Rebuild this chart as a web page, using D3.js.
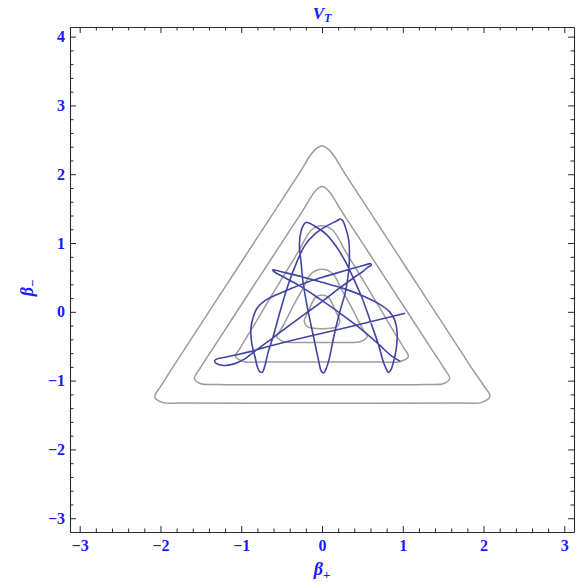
<!DOCTYPE html>
<html>
<head>
<meta charset="utf-8">
<script src="https://cdn.jsdelivr.net/npm/d3@7"></script>
<style>
  body { margin: 0; background: #fff; }
  svg { display: block; }
</style>
</head>
<body>
<div id="chart"></div>
<script>
// tick labels
const xTicks = [-3, -2, -1, 0, 1, 2, 3]
const yTicks = [-3, -2, -1, 0, 1, 2, 3, 4]

// equipotential contours of V_T (beta+, beta-)
const contour1 = [[0, 2.41], [0.10, 2.34], [0.30, 1.98], [1.05, 0.63], [1.85, -0.81], [2.00, -1.07], [2.08, -1.23],
  [1.97, -1.32], [1.75, -1.325], [0, -1.33], [-1.75, -1.325], [-1.97, -1.32], [-2.07, -1.24], [-1.99, -1.07],
  [-1.85, -0.81], [-1.05, 0.63], [-0.30, 1.98], [-0.10, 2.34]]
const contour2 = [[0, 1.82], [0.08, 1.76], [0.25, 1.45], [0.79, 0.48], [1.35, -0.53], [1.51, -0.82], [1.58, -0.97],
  [1.50, -1.045], [1.30, -1.055], [0, -1.06], [-1.30, -1.055], [-1.50, -1.045], [-1.58, -0.97], [-1.51, -0.82],
  [-1.35, -0.53], [-0.79, 0.48], [-0.25, 1.45], [-0.08, 1.76]]
const contour3 = [[0, 1.25], [0.13, 1.19], [0.30, 0.86], [0.57, 0.34], [0.85, -0.21], [1.01, -0.52], [1.07, -0.65],
  [0.96, -0.725], [0.75, -0.73], [0, -0.73], [-0.75, -0.73], [-0.96, -0.725], [-1.07, -0.65], [-1.01, -0.52],
  [-0.85, -0.21], [-0.57, 0.34], [-0.30, 0.86], [-0.13, 1.19]]
const contour4 = [[0, 0.62], [0.13, 0.56], [0.24, 0.33], [0.35, 0.10], [0.45, -0.13], [0.51, -0.26], [0.56, -0.36],
  [0.47, -0.435], [0.30, -0.445], [0, -0.445], [-0.30, -0.445], [-0.47, -0.435], [-0.56, -0.36], [-0.51, -0.26],
  [-0.45, -0.13], [-0.35, 0.10], [-0.24, 0.33], [-0.13, 0.56]]
const contour5 = [[0, 0.245], [0.08, 0.21], [0.16, 0.03], [0.22, -0.14], [0.19, -0.21], [0.10, -0.24], [0, -0.245],
  [-0.10, -0.24], [-0.19, -0.21], [-0.22, -0.14], [-0.16, 0.03], [-0.08, 0.21]]
const contours = [contour1, contour2, contour3, contour4, contour5]

// trajectory
const betaPlus = [1.03, 0.41, -0.21, -0.62, -0.83, -1.04, -1.20, -1.29, -1.33, -1.31,
  -1.22, -1.10, -0.95, -0.83, -0.62, -0.42, -0.21, 0.00, 0.20, 0.41,
  0.51, 0.57, 0.61, 0.60, 0.53, 0.41, 0.20, 0.00, -0.21, -0.42,
  -0.58, -0.71, -0.80, -0.85, -0.88, -0.87, -0.83, -0.80, -0.77, -0.74,
  -0.71, -0.67, -0.60, -0.52, -0.42, -0.31, -0.21, -0.09, 0.06, 0.18,
  0.23, 0.26, 0.29, 0.33, 0.34, 0.33, 0.29, 0.22, 0.15, 0.09,
  0.05, 0.02, -0.01, -0.04, -0.10, -0.17, -0.23, -0.26, -0.28, -0.26,
  -0.23, -0.20, -0.16, -0.07, 0.05, 0.17, 0.29, 0.40, 0.50, 0.60,
  0.70, 0.76, 0.80, 0.82, 0.85, 0.88, 0.92, 0.93, 0.90, 0.83,
  0.70, 0.53, 0.29, 0.00, -0.25, -0.46, -0.56, -0.61, -0.59, -0.50,
  -0.25, -0.02, 0.20, 0.45, 0.70, 0.86, 0.97]
const betaMinus = [-0.02, -0.20, -0.37, -0.49, -0.56, -0.62, -0.66, -0.68, -0.71, -0.75,
  -0.78, -0.76, -0.68, -0.57, -0.39, -0.21, -0.03, 0.15, 0.33, 0.51,
  0.59, 0.65, 0.68, 0.70, 0.68, 0.64, 0.57, 0.50, 0.42, 0.32,
  0.24, 0.16, 0.06, -0.07, -0.24, -0.46, -0.65, -0.80, -0.87, -0.88,
  -0.80, -0.60, -0.34, 0.00, 0.39, 0.73, 0.97, 1.13, 1.25, 1.32,
  1.35, 1.32, 1.23, 1.05, 0.83, 0.59, 0.29, 0.00, -0.34, -0.68,
  -0.83, -0.89, -0.86, -0.72, -0.39, 0.00, 0.39, 0.73, 0.97, 1.17,
  1.26, 1.30, 1.29, 1.23, 1.13, 0.96, 0.73, 0.46, 0.19, -0.14,
  -0.48, -0.73, -0.84, -0.88, -0.85, -0.75, -0.53, -0.29, -0.12, 0.01,
  0.12, 0.22, 0.33, 0.43, 0.51, 0.57, 0.60, 0.61, 0.58, 0.52,
  0.36, 0.18, 0.00, -0.22, -0.47, -0.64, -0.72]

const W = 584, H = 584
const margin = { left: 70, right: 574, top: 27, bottom: 532 }
const blue = '#1a1aff'
const font = '"Liberation Serif", "Times New Roman", serif'

const svg = d3.select('#chart').append('svg')
    .attr('width', W)
    .attr('height', H)

let x = d3.scaleLinear().domain([-3.12, 3.12]).range([margin.left, margin.right])
let y = d3.scaleLinear().domain([-3.2, 4.14]).range([margin.bottom, margin.top])

//contours
let closedLine = d3.line()
    .x(d => x(d[0]))
    .y(d => y(d[1]))
    .curve(d3.curveCatmullRomClosed.alpha(0.5))

svg.append('g')
    .selectAll('path')
    .data(contours)
    .enter().append('path')
    .attr('d', closedLine)
    .attr('fill', 'none')
    .attr('stroke', '#9c9c9c')
    .attr('stroke-width', 1.5)

//trajectory
let traj = betaPlus.map((d, i) => [d, betaMinus[i]])
let openLine = d3.line()
    .x(d => x(d[0]))
    .y(d => y(d[1]))
    .curve(d3.curveCatmullRom.alpha(0.5))

svg.append('path')
    .datum(traj)
    .attr('d', openLine)
    .attr('fill', 'none')
    .attr('stroke', '#4343a6')
    .attr('stroke-width', 1.6)
    .attr('stroke-linejoin', 'round')

//frame with ticks on all sides
const minorX = d3.range(-15, 16).filter(i => i % 5 !== 0).map(i => i / 5)
const minorY = d3.range(-15, 21).filter(i => i % 5 !== 0).map(i => i / 5)

function styleAxis(g) {
    g.selectAll('.domain').attr('stroke', '#2a2a2a').attr('stroke-width', 1.1)
    g.selectAll('line').attr('stroke', '#2a2a2a').attr('stroke-width', 1)
    g.selectAll('text')
        .attr('fill', blue)
        .attr('font-family', font)
        .attr('font-weight', 'bold')
        .attr('font-size', 16)
}

const axes = [
    { make: d3.axisBottom, scale: x, pos: `translate(0,${margin.bottom})`, major: xTicks, minor: minorX, labels: true },
    { make: d3.axisTop, scale: x, pos: `translate(0,${margin.top})`, major: xTicks, minor: minorX, labels: false },
    { make: d3.axisLeft, scale: y, pos: `translate(${margin.left},0)`, major: yTicks, minor: minorY, labels: true },
    { make: d3.axisRight, scale: y, pos: `translate(${margin.right},0)`, major: yTicks, minor: minorY, labels: false }
]

axes.forEach(a => {
    svg.append('g')
        .attr('transform', a.pos)
        .call(a.make(a.scale).tickValues(a.minor).tickSize(-3.5).tickFormat(''))
        .call(g => g.select('.domain').remove())
        .call(styleAxis)
    svg.append('g')
        .attr('transform', a.pos)
        .call(a.make(a.scale).tickValues(a.major).tickSizeInner(-6).tickSizeOuter(0)
            .tickPadding(a.make === d3.axisBottom ? 8 : 5)
            .tickFormat(a.labels ? d3.format('d') : ''))
        .call(styleAxis)
})

//title and axis labels
let title = svg.append('text')
    .attr('x', x(0))
    .attr('y', 19)
    .attr('text-anchor', 'middle')
    .attr('fill', blue)
    .attr('font-family', font)
    .attr('font-weight', 'bold')
    .attr('font-style', 'italic')
    .attr('font-size', 17)
title.append('tspan').text('V')
title.append('tspan').attr('font-size', 12).attr('dy', 3).text('T')

let xLabel = svg.append('text')
    .attr('x', x(0))
    .attr('y', 575)
    .attr('text-anchor', 'middle')
    .attr('fill', blue)
    .attr('font-family', font)
    .attr('font-weight', 'bold')
    .attr('font-style', 'italic')
    .attr('font-size', 18)
xLabel.append('tspan').text('β')
xLabel.append('tspan').attr('font-size', 13).attr('dy', 4).attr('font-style', 'normal').text('+')

let yLabel = svg.append('text')
    .attr('transform', 'translate(33,288) rotate(-90)')
    .attr('text-anchor', 'middle')
    .attr('fill', blue)
    .attr('font-family', font)
    .attr('font-weight', 'bold')
    .attr('font-style', 'italic')
    .attr('font-size', 18)
yLabel.append('tspan').text('β')
yLabel.append('tspan').attr('font-size', 13).attr('dy', 4).attr('font-style', 'normal').text('−')
</script>
</body>
</html>
